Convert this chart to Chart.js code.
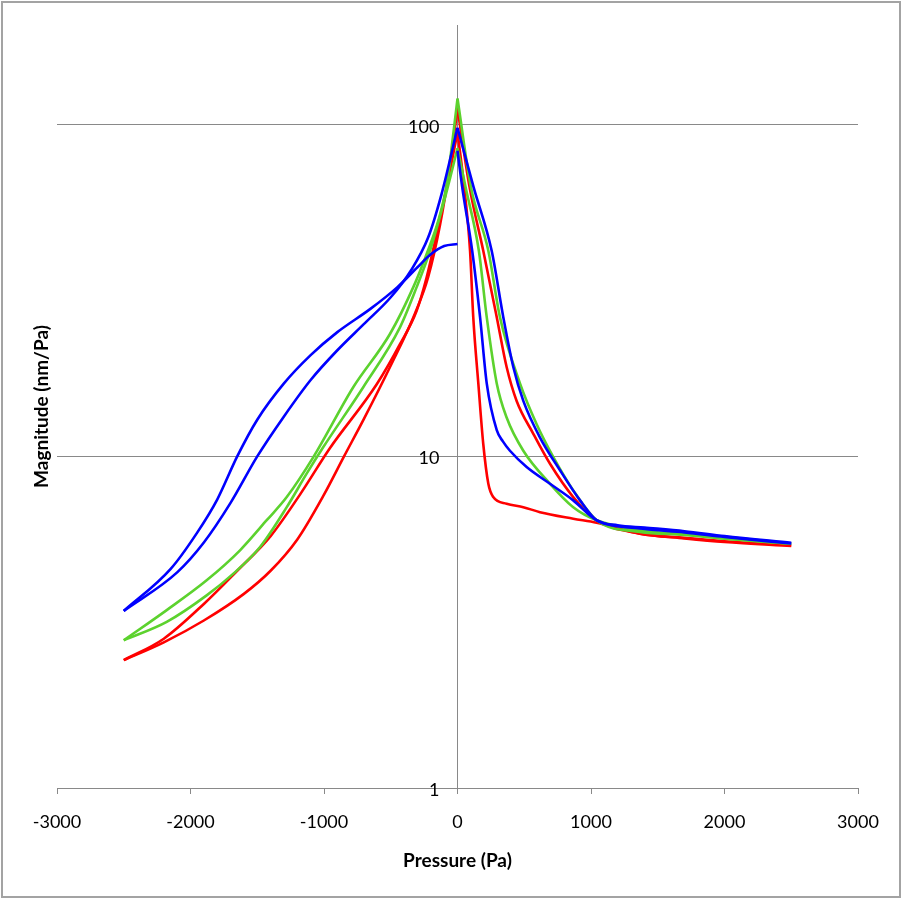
<!DOCTYPE html>
<html>
<head>
<meta charset="utf-8">
<script src="https://cdn.jsdelivr.net/npm/chart.js@4.4.1/dist/chart.umd.min.js"></script>
<style>
  html, body { margin: 0; padding: 0; background: #fff; }
  #wrap { position: relative; width: 904px; height: 900px; }
  #frame { position: absolute; left: 1px; top: 1px; width: 900px; height: 897px;
           box-sizing: border-box; border: 2px solid #a3a3a3; pointer-events: none; }
  canvas { position: absolute; left: 0; top: 0; }
</style>
</head>
<body>
<div id="wrap">
  <canvas id="chart" width="904" height="900"></canvas>
  <div id="frame"></div>
</div>
<script>
// Pressure sweep: magnitude vs pressure, log y axis.

const X_MIN = -3000, X_MAX = 3000, X_STEP = 1000;
const Y_TICKS = [1, 10, 100];
const Y_MAX = 200;

// each branch: [pressure (Pa), magnitude (nm/Pa)]
const BLUE_A_LEFT = [[-2500,3.42],[-2100,4.47],[-1900,5.5],[-1700,7.24],[-1500,10],[-1300,13.2],[-1100,17.0],[-900,20.9],[-700,25.1],[-500,30.2],[-350,36.3],[-220,45.7],[-120,61.7],[0,98]];
const BLUE_A_RIGHT = [[0,98],[120,65],[256,41.7],[343,26.3],[418,18.6],[493,14.7],[618,11.4],[768,9.08],[918,7.37],[1042,6.42],[1200,6.2],[1400,6.1],[1700,5.95],[2000,5.75],[2500,5.49]];
const BLUE_B_LEFT = [[-2500,3.42],[-2150,4.57],[-1950,5.89],[-1800,7.41],[-1650,10],[-1500,12.9],[-1300,16.6],[-1100,20.2],[-900,23.7],[-650,27.9],[-450,32.4],[-300,37.2],[-200,40.7],[-100,43.1],[0,43.7]];
const BLUE_B_RIGHT = [[0,83.5],[35,65],[110,41.7],[169,26.3],[219,16.6],[294,12.0],[340,11.1],[393,10.4],[518,9.29],[693,8.27],[867,7.37],[1042,6.42],[1367,6.06],[1700,5.9],[2000,5.72],[2500,5.46]];

const GREEN_A_LEFT = [[-2500,2.79],[-2178,3.44],[-1879,4.23],[-1629,5.21],[-1429,6.42],[-1279,7.54],[-1080,9.95],[-780,16.2],[-506,23.4],[-331,32.4],[-231,40.8],[-144,51.4],[-81,66],[-40,88],[0,120]];
const GREEN_A_RIGHT = [[0,120],[100,65],[231,41.7],[318,26.3],[468,16.6],[593,12.5],[718,9.95],[867,7.9],[1042,6.42],[1367,5.92],[1700,5.8],[2000,5.65],[2500,5.45]];
const GREEN_B_LEFT = [[-2500,2.79],[-2178,3.17],[-1879,3.81],[-1679,4.43],[-1479,5.33],[-1279,7.03],[-1130,8.87],[-1005,10.67],[-705,16.2],[-431,24.5],[-306,32.4],[-206,41.7],[-120,55],[-60,68],[0,85]];
const GREEN_B_RIGHT = [[0,85],[60,65],[160,41.7],[219,26.3],[294,16.6],[368,13.1],[493,10.4],[693,8.27],[867,7.03],[1042,6.42],[1367,5.99],[1700,5.82],[2000,5.66],[2500,5.45]];

const RED_A_LEFT = [[-2500,2.43],[-2200,2.75],[-1900,3.2],[-1600,3.85],[-1400,4.52],[-1200,5.62],[-1000,7.67],[-850,10],[-700,13.0],[-500,18.8],[-320,26.9],[-220,34.7],[-130,50.1],[-60,74.1],[0,112]];
const RED_A_RIGHT = [[0,112],[90,65],[193,41.7],[294,26.3],[368,18.6],[443,14.7],[568,11.7],[693,9.5],[867,7.54],[1042,6.42],[1367,5.85],[1700,5.68],[2000,5.55],[2500,5.39]];
const RED_B_LEFT = [[-2500,2.43],[-2200,2.82],[-1900,3.59],[-1650,4.52],[-1400,5.75],[-1180,7.67],[-955,10.6],[-605,16.5],[-431,21.8],[-306,27.5],[-231,34.7],[-156,46.9],[-80,65],[0,95]];
const RED_B_RIGHT = [[0,95],[50,65],[94,41.7],[118,26.3],[156,16.6],[193,10.9],[231,8.27],[268,7.54],[368,7.2],[493,7.03],[618,6.79],[867,6.49],[1042,6.31],[1367,5.85],[1700,5.66],[2000,5.52],[2500,5.37]];

const BLUE = "#0000ff";
const GREEN = "#5cd22e";
const RED = "#ff0000";
const AXIS_GRAY = "#898989";
const FONT = "Lato, 'Open Sans', sans-serif";

// first dataset is painted last, so blue ends up on top
const BRANCHES = [
  [BLUE_A_LEFT, BLUE], [BLUE_A_RIGHT, BLUE], [BLUE_B_LEFT, BLUE], [BLUE_B_RIGHT, BLUE],
  [GREEN_A_LEFT, GREEN], [GREEN_A_RIGHT, GREEN], [GREEN_B_LEFT, GREEN], [GREEN_B_RIGHT, GREEN],
  [RED_A_LEFT, RED], [RED_A_RIGHT, RED], [RED_B_LEFT, RED], [RED_B_RIGHT, RED],
];

const datasets = BRANCHES.map(([pts, color]) => ({
  data: pts.map(([x, y]) => ({ x, y })),
  borderColor: color,
  backgroundColor: color,
  borderWidth: 2.6,
  pointRadius: 0,
  fill: false,
  cubicInterpolationMode: "monotone",
  xAxisID: "x",
  yAxisID: "y",
}));

new Chart(document.getElementById("chart").getContext("2d"), {
  type: "line",
  data: { datasets },
  options: {
    responsive: false,
    animation: false,
    devicePixelRatio: 1,
    // plot area lands on 57..858 x 25..788
    layout: { padding: { left: 26.2, right: 46, top: 25, bottom: 23.6 } },
    plugins: { legend: { display: false }, tooltip: { enabled: false } },
    scales: {
      x: {
        type: "linear",
        min: X_MIN,
        max: X_MAX,
        ticks: { stepSize: X_STEP, color: "#000", font: { family: FONT, size: 18 }, padding: 17,
                 maxRotation: 0, callback: (v) => String(v) },
        grid: { drawOnChartArea: false, tickLength: 6, color: AXIS_GRAY },
        border: { color: AXIS_GRAY, width: 1 },
        title: { display: true, text: "Pressure (Pa)", color: "#000",
                 font: { family: FONT, size: 19, weight: "bold" }, padding: { top: 0, bottom: 4 } },
      },
      y: {
        type: "logarithmic",
        position: { x: 0 },
        min: 1,
        max: Y_MAX,
        afterBuildTicks: (s) => { s.ticks = Y_TICKS.map((v) => ({ value: v })); },
        // labels sit against the centre axis, so keep a gap after the number
        ticks: { color: "#000", font: { family: FONT, size: 18 }, labelOffset: 2,
                 callback: (v) => String(v) + "\u2003 " },
        grid: { color: AXIS_GRAY, tickLength: 8 },
        border: { color: AXIS_GRAY, width: 1 },
      },
      yTitle: {
        type: "linear",
        position: "left",
        grid: { display: false, drawTicks: false },
        border: { display: false },
        ticks: { display: false },
        title: { display: true, text: "Magnitude (nm/Pa)", color: "#000",
                 font: { family: FONT, size: 19, weight: "bold" }, padding: { top: 4, bottom: 4 } },
      },
    },
  },
});
</script>
</body>
</html>
